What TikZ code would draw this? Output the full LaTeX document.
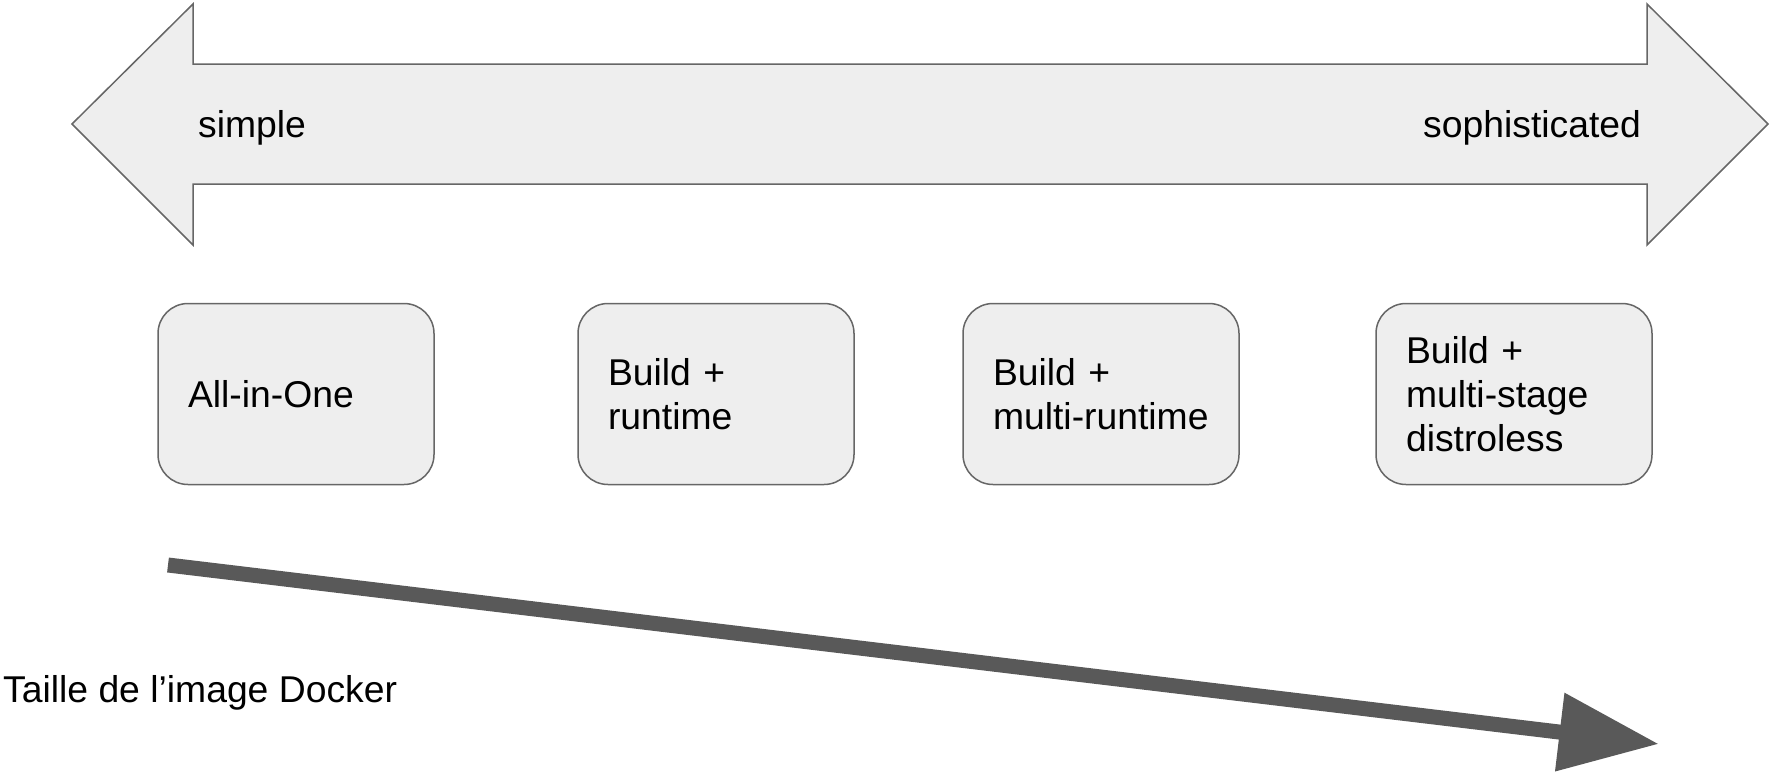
\documentclass[tikz,border=0pt]{standalone}
\usepackage{fontspec}
\setmainfont{Liberation Sans}
\usetikzlibrary{arrows.meta}
\definecolor{boxfill}{HTML}{EEEEEE}
\definecolor{boxline}{HTML}{666666}
\definecolor{darkarrow}{HTML}{595959}
\begin{document}
\begin{tikzpicture}[x=1pt,y=-1pt,
  bigtext/.style={font=\fontsize{37.3}{44}\selectfont, inner sep=0pt},
  stagebox/.style={draw=boxline, fill=boxfill, line width=1.5pt, rounded corners=30pt,
    minimum width=276pt, minimum height=181pt, text width=216pt, inner xsep=30pt,
    align=left, font=\fontsize{37.3}{44}\selectfont},
  shapeline/.style={draw=boxline, fill=boxfill, line width=1.5pt, line join=miter}]
\useasboundingbox (0,0) rectangle (1774,782);
% double arrow
\path[shapeline] (72,124) -- (193,4) -- (193,64) -- (1647,64) -- (1647,4) -- (1768,124)
  -- (1647,245) -- (1647,184) -- (193,184) -- (193,245) -- cycle;
\node[bigtext, anchor=base west] (simple) at (198,137) {simple};
\node[bigtext, anchor=base west] (soph) at (1423,137) {sophisticated};
% boxes
\node[stagebox] (b1) at (296,394) {All-in-One};
\node[stagebox] (b2) at (716,394) {Build +\\runtime};
\node[stagebox] (b3) at (1101,394) {Build +\\multi-runtime};
\node[stagebox] (b4) at (1514,394) {Build +\\multi-stage\\distroless};
% size arrow
\coordinate (s0) at (168,565);
\coordinate (s1) at (1659,744);
\draw[darkarrow, line width=15pt, -{Triangle[length=100pt,width=75pt]}] (s0) -- (s1);
\node[bigtext, anchor=base west] (taille) at (3,702) {Taille de l’image Docker};
\end{tikzpicture}
\end{document}
